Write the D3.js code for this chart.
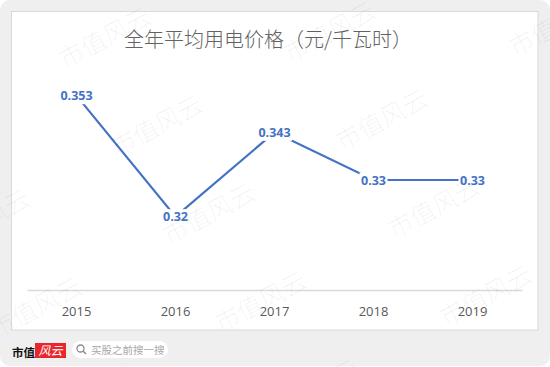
<!DOCTYPE html>
<html>
<head>
<meta charset="utf-8">
<script src="https://cdn.jsdelivr.net/npm/d3@7"></script>
<style>
  html, body { margin: 0; padding: 0; background: #fff; }
  svg { display: block; }
</style>
</head>
<body>
<div id="chart"></div>
<script>
// podaci
const title = "全年平均用电价格（元/千瓦时）";
const years = ["2015", "2016", "2017", "2018", "2019"];
const prices = [0.353, 0.32, 0.343, 0.33, 0.33];
const priceLabels = ["0.353", "0.32", "0.343", "0.33", "0.33"];
const yDomain = [0.30, 0.36];
const watermarkText = "市值风云";
const logoText = "市值";
const logoRedText = "风云";
const searchText = "买股之前搜一搜";

const dataset = years.map((y, i) => ({ year: y, value: prices[i], label: priceLabels[i] }));

const W = 550, H = 367;
const blue = "#4472C4";

const svg = d3.select("#chart").append("svg")
    .attr("width", W)
    .attr("height", H);

// pozadina
svg.append("rect")
    .attr("x", 0).attr("y", 0)
    .attr("width", W).attr("height", H - 1)
    .attr("rx", 10)
    .attr("fill", "#efefef");

svg.append("rect")
    .attr("x", 11.5).attr("y", 11.5)
    .attr("width", 526.5).attr("height", 318.5)
    .attr("fill", "#fff")
    .attr("stroke", "#d9d9d9")
    .attr("stroke-width", 1);

// naslov
svg.append("text")
    .attr("x", 268)
    .attr("y", 47)
    .attr("text-anchor", "middle")
    .attr("font-family", "'Noto Sans CJK SC', sans-serif")
    .attr("font-weight", 300)
    .attr("font-size", 20)
    .attr("fill", "#626262")
    .text(title);

// skale
const xScale = d3.scaleBand()
    .domain(years)
    .range([27, 522]);

const yScale = d3.scaleLinear()
    .domain(yDomain)
    .range([290, 70]);

const xAxis = svg.append("g")
    .attr("transform", "translate(0,290)")
    .call(d3.axisBottom(xScale).tickSize(0).tickPadding(17));

xAxis.select(".domain")
    .attr("stroke", "#d9d9d9")
    .attr("stroke-width", 1.5);

xAxis.selectAll("text")
    .attr("font-family", "'Open Sans', sans-serif")
    .attr("font-size", 13)
    .attr("fill", "#595959");

// linija
const line = d3.line()
    .x(d => xScale(d.year) + xScale.bandwidth() / 2)
    .y(d => yScale(d.value));

svg.append("path")
    .datum(dataset)
    .attr("d", line)
    .attr("fill", "none")
    .attr("stroke", blue)
    .attr("stroke-width", 2.2);

// oznake s bijelom pozadinom
const labels = svg.append("g");
const lab = labels.selectAll("g")
    .data(dataset)
    .enter().append("g")
    .attr("transform", d => `translate(${xScale(d.year) + xScale.bandwidth() / 2},${yScale(d.value)})`);

lab.append("text")
    .attr("text-anchor", "middle")
    .attr("dy", "0.36em")
    .attr("font-family", "'Open Sans', sans-serif")
    .attr("font-weight", "bold")
    .attr("font-size", 12.5)
    .attr("fill", blue)
    .text(d => d.label);

lab.each(function () {
    const g = d3.select(this);
    const bb = g.select("text").node().getBBox();
    g.insert("rect", "text")
        .attr("x", bb.x - 1.5)
        .attr("y", bb.y + 1)
        .attr("width", bb.width + 3)
        .attr("height", bb.height - 1)
        .attr("fill", "#fff");
});

// vodeni zig
const wm = svg.append("g")
    .attr("font-family", "'Noto Sans CJK SC', sans-serif")
    .attr("font-weight", 300)
    .attr("font-size", 25)
    .attr("fill", "#000")
    .attr("fill-opacity", 0.06)
    .attr("text-anchor", "middle");

for (let r = -1; r <= 4; r++) {
    for (let k = -2; k <= 3; k++) {
        const cx = 105 + 52 * r + 225 * k;
        const cy = 38 + 88 * r - 6 * k;
        if (cx < -80 || cx > 640 || cy < -40 || cy > 410) continue;
        wm.append("text")
            .attr("transform", `translate(${cx},${cy}) rotate(-28)`)
            .attr("dy", "0.35em")
            .text(watermarkText);
    }
}

// logo dolje lijevo
svg.append("text")
    .attr("x", 12)
    .attr("y", 356.5)
    .attr("font-family", "'Noto Sans CJK SC', serif")
    .attr("font-weight", "bold")
    .attr("font-size", 11.5)
    .attr("fill", "#111")
    .text(logoText);

svg.append("rect")
    .attr("x", 35).attr("y", 343)
    .attr("width", 31).attr("height", 15)
    .attr("fill", "#e8262b");

svg.append("text")
    .attr("x", 50.5)
    .attr("y", 355)
    .attr("text-anchor", "middle")
    .attr("font-family", "'Noto Sans CJK SC', sans-serif")
    .attr("font-style", "italic")
    .attr("font-size", 12)
    .attr("fill", "#fff")
    .text(logoRedText);

svg.append("rect")
    .attr("x", 72).attr("y", 341)
    .attr("width", 96).attr("height", 17)
    .attr("rx", 8.5)
    .attr("fill", "#fff");

svg.append("circle")
    .attr("cx", 80.5).attr("cy", 348.5)
    .attr("r", 3.5)
    .attr("fill", "none")
    .attr("stroke", "#8a8a8a")
    .attr("stroke-width", 1.3);

svg.append("line")
    .attr("x1", 83).attr("y1", 351)
    .attr("x2", 86).attr("y2", 354)
    .attr("stroke", "#8a8a8a")
    .attr("stroke-width", 1.4);

svg.append("text")
    .attr("x", 91)
    .attr("y", 353.5)
    .attr("font-family", "'Noto Sans CJK SC', sans-serif")
    .attr("font-size", 10.5)
    .attr("fill", "#a8a8a8")
    .text(searchText);
</script>
</body>
</html>
